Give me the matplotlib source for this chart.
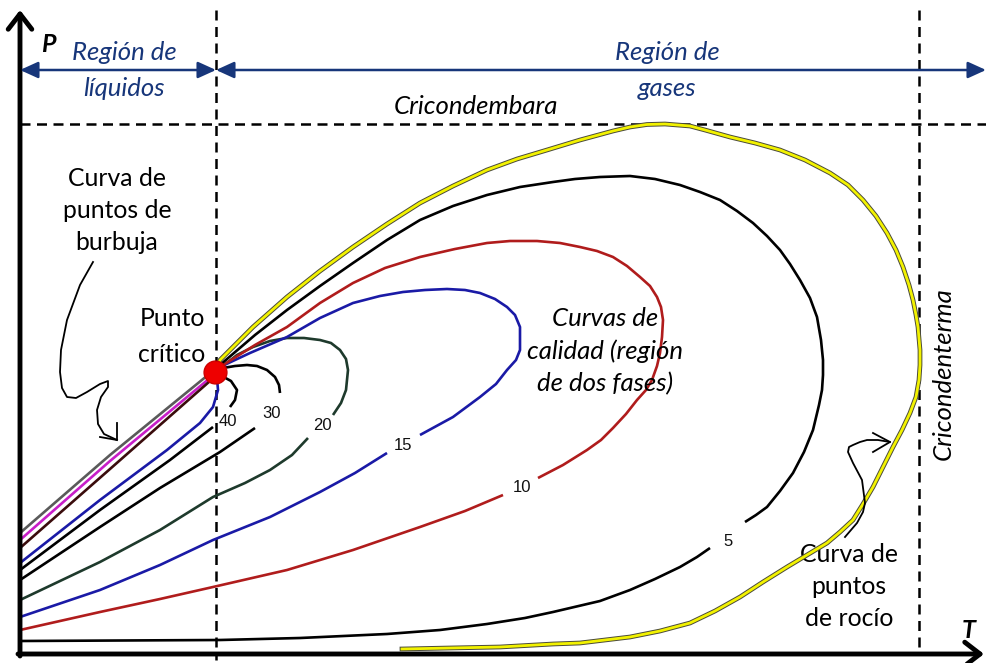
import matplotlib
matplotlib.use("Agg")
import matplotlib.pyplot as plt
import matplotlib.patheffects as pe

# coordinates: T to the right, P read downward from the top of the sheet (axis is inverted)
# phase envelope: from the critical point along the dew side down to the bottom
dew_T = [216, 220, 253, 287, 320, 353, 387, 420, 453, 487, 517, 547, 580, 613, 630, 647,
         665, 690, 705, 730, 755, 780, 805, 830, 848, 863, 876, 887, 896, 903, 909, 913,
         916, 918, 920, 920, 919, 916, 910, 902, 893, 883, 873, 863, 853, 840, 827, 807,
         787, 763, 740, 715, 690, 660, 630, 605, 580, 553, 500, 450, 402]
dew_P = [372, 360, 327, 297, 271, 247, 224, 203, 186, 170, 159, 150, 140, 131, 127, 124.5,
         124, 126, 130, 137, 143, 150, 160, 173, 185, 200, 216, 233, 250, 267, 285, 300,
         315, 327, 350, 365, 380, 397, 413, 430, 447, 467, 487, 504, 520, 532, 543, 555,
         567, 582, 597, 611, 623, 631, 637, 640, 643, 644, 647, 648, 649]

# bubble side lines that reach the P axis
gray_T = [20, 110, 208]
gray_P = [533, 455, 375]
magenta_T = [20, 110, 210]
magenta_P = [540, 461, 378]
brown_T = [20, 110, 210]
brown_P = [548, 469, 381]
blue_top_T = [20, 100, 167, 200, 213, 218, 217]
blue_top_P = [563, 500, 450, 423, 407, 390, 378]

# quality curves, lower and upper pieces (split at the label)
q40_lo_T = [20, 100, 170, 213]
q40_lo_P = [570, 510, 460, 427]
q40_up_T = [230, 235, 237, 231, 220]
q40_up_P = [407, 400, 390, 381, 375]
q30_lo_T = [20, 100, 160, 220, 255]
q30_lo_P = [580, 527, 488, 452, 428]
q30_up_T = [280, 279, 275, 267, 257, 247, 235, 223]
q30_up_P = [393, 385, 377, 370, 366, 365, 366, 368]
q20_lo_T = [20, 100, 160, 213, 245, 270, 292, 308]
q20_lo_P = [600, 562, 530, 497, 483, 470, 455, 438]
q20_up_T = [333, 341, 346, 348, 346, 340, 331, 320, 304, 287, 270, 253, 237, 223]
q20_up_P = [415, 403, 390, 370, 359, 350, 343, 340, 338, 338, 341, 347, 355, 366]
q15_lo_T = [20, 100, 160, 213, 270, 320, 355, 387]
q15_lo_P = [617, 590, 565, 540, 517, 492, 473, 453]
q15_up_T = [420, 453, 480, 496, 507, 516, 520, 520, 515, 507, 495, 480, 465, 447, 425, 403,
            380, 353, 320, 287, 250, 220]
q15_up_P = [435, 417, 397, 384, 370, 360, 350, 327, 315, 307, 299, 293, 290, 289, 290, 292,
            296, 303, 318, 337, 353, 367]
q10_lo_T = [20, 100, 160, 213, 287, 353, 420, 465, 503]
q10_lo_P = [630, 612, 599, 587, 570, 550, 527, 511, 495]
q10_up_T = [538, 563, 587, 601, 613, 626, 637, 646, 652, 657, 660, 662, 663, 661, 657, 650,
            640, 627, 613, 597, 580, 560, 537, 510, 487, 455, 420, 385, 353, 320, 287, 255, 220]
q10_up_P = [478, 465, 450, 440, 428, 414, 400, 390, 380, 366, 353, 337, 320, 307, 297, 286,
            277, 266, 257, 251, 247, 243, 241, 241, 243, 249, 257, 268, 283, 303, 327, 345, 367]
q5_lo_T = [20, 220, 300, 387, 440, 487, 525, 553, 600, 630, 655, 680, 697, 710]
q5_lo_P = [641, 640, 638, 634, 630, 624, 618, 612, 601, 590, 579, 567, 557, 548]
q5_up_T = [745, 756, 767, 780, 793, 804, 813, 819, 822, 823, 823, 821, 817, 810, 800, 790,
           780, 767, 753, 737, 720, 700, 680, 655, 630, 600, 575, 553, 520, 487, 453, 420,
           387, 353, 320, 287, 255, 220]
q5_up_P = [522, 515, 507, 491, 473, 452, 430, 405, 390, 375, 360, 340, 317, 298, 280, 264,
           250, 236, 223, 211, 200, 192, 185, 179, 176, 177, 179, 182, 187, 195, 206, 220,
           240, 263, 286, 310, 335, 365]

quality_labels = ["40", "30", "20", "15", "10", "5"]
label_T = [228, 272, 322, 403, 522, 728]
label_P = [422, 414, 426, 445, 488, 541]

critical_T, critical_P = 215, 372
cricondembara_P = 124
cricondenterma_T = 919
divider_T = 216

bubble_arrow_T = [93, 80, 67, 61, 60, 62, 67, 76, 87, 100, 108, 108, 101, 97, 98, 104, 117]
bubble_arrow_P = [262, 285, 320, 350, 372, 388, 397, 398, 392, 384, 381, 387, 397, 410, 424, 434, 440]
dew_arrow_T = [845, 857, 863, 865, 862, 853, 848, 849, 853, 860, 867, 878, 890]
dew_arrow_P = [537, 523, 512, 503, 480, 463, 452, 447, 445, 442, 440, 440, 442]

navy = "#17367a"
sans = ["Lato", "DejaVu Sans"]
fs_up = 17.8
fs_it = 18.5

fig = plt.figure(figsize=(9.86, 6.63), dpi=100)
ax = fig.add_axes([0, 0, 1, 1])
ax.set_xlim(0, 986)
ax.set_ylim(663, 0)
ax.axis("off")

dash = (0, (4, 2.6))
ax.plot([divider_T, divider_T], [10, 660], color="black", lw=1.8, ls=dash)
ax.plot([cricondenterma_T, cricondenterma_T], [10, 654], color="black", lw=1.8, ls=dash)
ax.plot([20, 986], [cricondembara_P, cricondembara_P], color="black", lw=1.8, ls=dash)

# envelope: yellow with a thin dark rim
ax.plot(dew_T, dew_P, color="#f2f200", lw=2.0, solid_joinstyle="round",
        path_effects=[pe.Stroke(linewidth=3.4, foreground="#4a4a3a"), pe.Normal()], zorder=4)

lines = [
    (gray_T, gray_P, "#5a5a5a"),
    (magenta_T, magenta_P, "#c81ec8"),
    (brown_T, brown_P, "#3a0c0c"),
    (blue_top_T, blue_top_P, "#1a1aa6"),
    (q40_lo_T, q40_lo_P, "black"),
    (q40_up_T, q40_up_P, "black"),
    (q30_lo_T, q30_lo_P, "black"),
    (q30_up_T, q30_up_P, "black"),
    (q20_lo_T, q20_lo_P, "#1e3a2c"),
    (q20_up_T, q20_up_P, "#1e3a2c"),
    (q15_lo_T, q15_lo_P, "#1a1aa6"),
    (q15_up_T, q15_up_P, "#1a1aa6"),
    (q10_lo_T, q10_lo_P, "#b01c1c"),
    (q10_up_T, q10_up_P, "#b01c1c"),
    (q5_lo_T, q5_lo_P, "black"),
    (q5_up_T, q5_up_P, "black"),
]
for t, p, c in lines:
    ax.plot(t, p, color=c, lw=1.9, solid_joinstyle="round", solid_capstyle="butt", zorder=3)

for lab, t, p in zip(quality_labels, label_T, label_P):
    ax.text(t, p, lab, fontsize=12, family="Liberation Sans", ha="center", va="center", color="#111111")

ax.scatter([critical_T], [critical_P], s=270, color="#ee0000", edgecolors="#cc0000", zorder=6)

# axes with open arrow heads
ax.annotate("", xy=(20, 10), xytext=(20, 656),
            arrowprops=dict(arrowstyle="->,head_length=1.1,head_width=0.85", lw=3.5,
                            color="black", shrinkA=0, shrinkB=0))
ax.annotate("", xy=(984, 654), xytext=(18, 654),
            arrowprops=dict(arrowstyle="->,head_length=1.1,head_width=0.85", lw=3.5,
                            color="black", shrinkA=0, shrinkB=0))
ax.text(48, 44, "P", fontsize=18, fontweight="bold", style="italic", family=sans,
        ha="center", va="center")
ax.text(969, 630, "T", fontsize=18, fontweight="bold", style="italic", family=sans,
        ha="center", va="center")

# region arrows
for a, b in [(20, divider_T), (divider_T, 986)]:
    ax.annotate("", xy=(b, 70), xytext=(a, 70),
                arrowprops=dict(arrowstyle="<|-|>,head_length=1.1,head_width=0.5", lw=1.8,
                                color=navy, shrinkA=0, shrinkB=0))
ax.text(124, 52, "Región de", fontsize=fs_it, style="italic", color=navy, family=sans, ha="center", va="center")
ax.text(124, 88, "líquidos", fontsize=fs_it, style="italic", color=navy, family=sans, ha="center", va="center")
ax.text(667, 52, "Región de", fontsize=fs_it, style="italic", color=navy, family=sans, ha="center", va="center")
ax.text(667, 88, "gases", fontsize=fs_it, style="italic", color=navy, family=sans, ha="center", va="center")

ax.text(476, 107, "Cricondembara", fontsize=fs_it, style="italic", family=sans, ha="center", va="center")
ax.text(943, 374, "Cricondenterma", fontsize=fs_it, style="italic", family=sans, rotation=90,
        ha="center", va="center")

for i, s in enumerate(["Curva de", "puntos de", "burbuja"]):
    ax.text(117, 179 + 31.5 * i, s, fontsize=fs_up, family=sans, ha="center", va="center")
for i, s in enumerate(["Punto", "crítico"]):
    ax.text(172, 318 + 36 * i, s, fontsize=fs_up, family=sans, ha="center", va="center")
for i, s in enumerate(["Curvas de", "calidad (región", "de dos fases)"]):
    ax.text(605, 318 + 33 * i, s, fontsize=fs_it, style="italic", family=sans, ha="center", va="center")
for i, s in enumerate(["Curva de", "puntos", "de rocío"]):
    ax.text(849, 555 + 32 * i, s, fontsize=fs_up, family=sans, ha="center", va="center")

# pointer squiggles
ax.plot(bubble_arrow_T, bubble_arrow_P, color="black", lw=1.3, zorder=5)
ax.plot([100, 117, 117], [437, 440, 423], color="black", lw=1.3, zorder=5)
ax.plot(dew_arrow_T, dew_arrow_P, color="black", lw=1.3, zorder=5)
ax.plot([873, 890, 873], [433, 442, 452], color="black", lw=1.3, zorder=5)

fig.savefig("out.png", dpi=100)
